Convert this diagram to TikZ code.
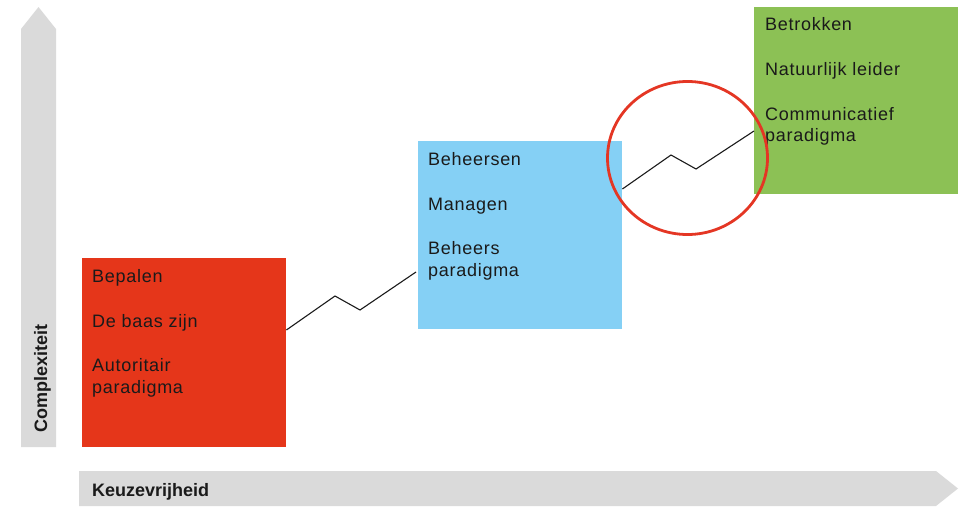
\documentclass[tikz,border=0pt]{standalone}
\usepackage{fontspec}
\usetikzlibrary{shapes.geometric}
\setmainfont{Liberation Sans}
\newfontfamily\bodyfont[LetterSpace=4]{Liberation Sans}
\definecolor{boxred}{RGB}{229,54,26}
\definecolor{boxblue}{RGB}{133,208,245}
\definecolor{boxgreen}{RGB}{140,193,85}
\definecolor{axisgray}{RGB}{218,218,218}
\definecolor{ringred}{RGB}{228,54,36}
\definecolor{ink}{RGB}{26,26,26}
\begin{document}
\begin{tikzpicture}[x=1pt,y=-1pt,
  panel/.style={draw=none,inner sep=0pt,anchor=north west},
  label/.style={anchor=base west,inner sep=0pt,text=ink,font=\bodyfont\fontsize{18}{22}\selectfont},
  axislabel/.style={anchor=base west,inner sep=0pt,text=ink,font=\fontsize{18}{22}\selectfont\bfseries},
  zig/.style={draw=ink,line width=1.1pt,line join=miter}]
\useasboundingbox (0,0) rectangle (963,506);
% axes
\fill[axisgray] (21,447) -- (21,29) -- (38.5,7) -- (56,29) -- (56,447) -- cycle;
\fill[axisgray] (79,471) -- (936,471) -- (958,488.5) -- (936,506) -- (79,506) -- cycle;
\node[axislabel,rotate=90] (ylab) at (47,433) {Complexiteit};
\node[axislabel] (xlab) at (92,496) {Keuzevrijheid};
% boxes
\node[panel,fill=boxred,minimum width=204pt,minimum height=189pt] (red) at (82,258) {};
\node[panel,fill=boxblue,minimum width=204pt,minimum height=188pt] (blue) at (418,141) {};
\node[panel,fill=boxgreen,minimum width=204pt,minimum height=187pt] (green) at (754,7) {};
% red texts
\node[label] (r1) at (92,282) {Bepalen};
\node[label] (r2) at (92,327.5) {De baas zijn};
\node[label] (r3) at (92,371) {Autoritair};
\node[label] (r4) at (92,393) {paradigma};
% blue texts
\node[label] (b1) at (428,165) {Beheersen};
\node[label] (b2) at (428,210) {Managen};
\node[label] (b3) at (428,254) {Beheers};
\node[label] (b4) at (428,276) {paradigma};
% green texts
\node[label] (g1) at (765,30) {Betrokken};
\node[label] (g2) at (765,75) {Natuurlijk leider};
\node[label] (g3) at (765,120) {Communicatief};
\node[label] (g4) at (765,141) {paradigma};
% zigzag connectors
\coordinate (z1a) at (335,296);
\coordinate (z1b) at (360,310);
\coordinate (z1e) at (416,272);
\draw[zig] (red.east |- 0,330) -- (z1a) -- (z1b) -- (z1e);
\coordinate (z2a) at (671,155);
\coordinate (z2b) at (696,169);
\draw[zig] (blue.east |- 0,189) -- (z2a) -- (z2b) -- (green.west |- 0,131);
% highlight ring
\node[draw=ringred,line width=2.8pt,ellipse,minimum width=160pt,minimum height=153pt,inner sep=0pt] (ring) at (687.5,158) {};
\end{tikzpicture}
\end{document}
